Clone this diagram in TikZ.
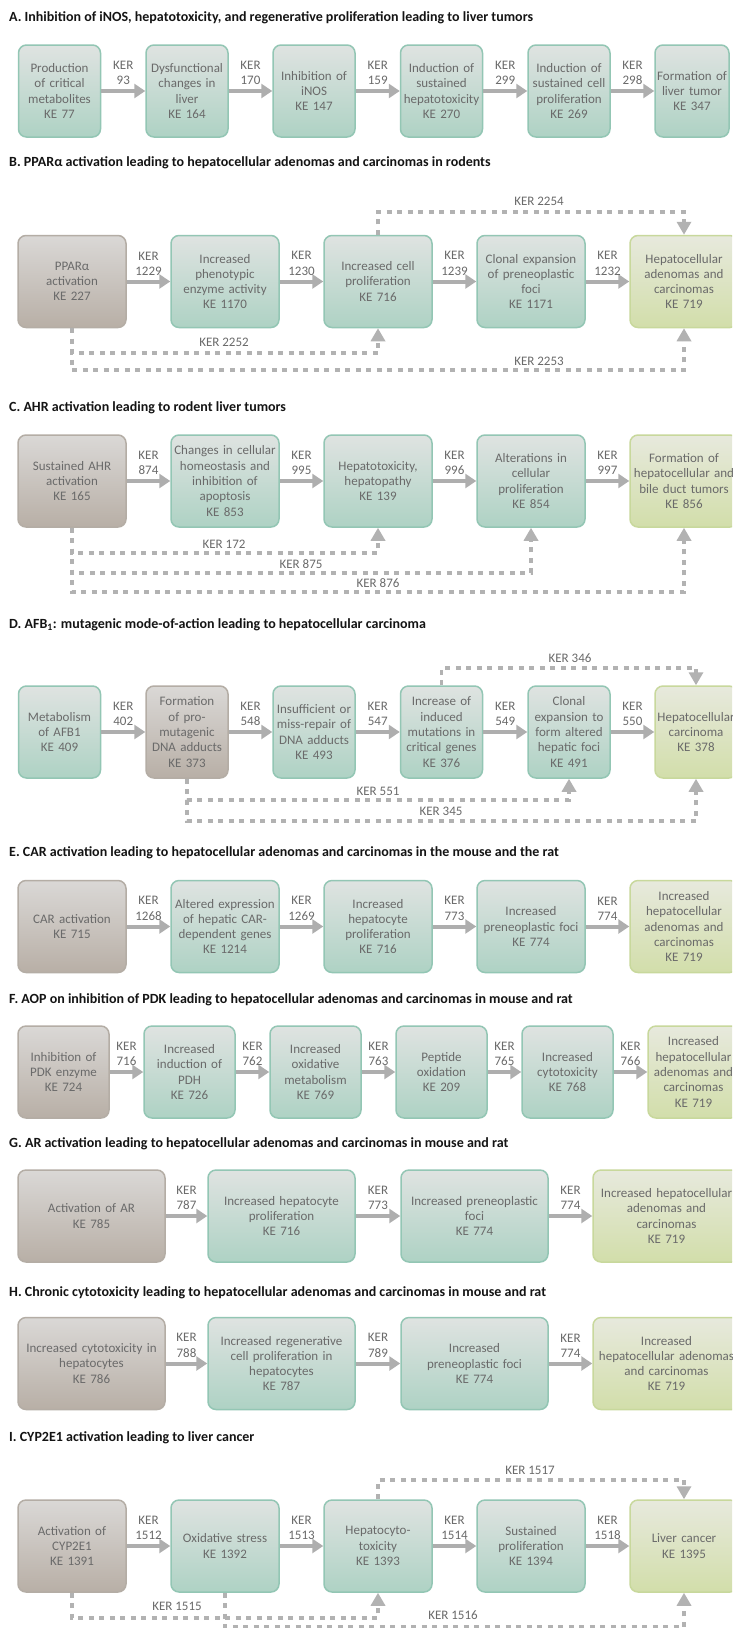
\documentclass[tikz,border=0pt]{standalone}
\usepackage{fontspec}
\setmainfont{Carlito}
\usetikzlibrary{arrows.meta,calc}
\definecolor{txtc}{HTML}{6A6A6A}
\definecolor{ttlc}{HTML}{141414}
\definecolor{tealD}{HTML}{93C6B4}
\definecolor{tealT}{HTML}{DFE3E1}
\definecolor{tealB}{HTML}{AED2C4}
\definecolor{brnD}{HTML}{B4ADA5}
\definecolor{brnT}{HTML}{DAD8D6}
\definecolor{brnB}{HTML}{B8AFA6}
\definecolor{yelD}{HTML}{C8D89C}
\definecolor{yelT}{HTML}{E7E9DD}
\definecolor{yelB}{HTML}{D2DEAA}
\definecolor{arrc}{HTML}{AEAEAE}
\definecolor{dotc}{HTML}{B2B2B2}
\newcommand\kef{\fontsize{13}{15.3}\selectfont}
\newcommand\ttlf{\bfseries\fontsize{14}{16.5}\selectfont}
\newcommand\kerlink[4]{\draw[kerarr] (#1.east) -- (#2.west);
  \node[kerlab, anchor=south] (#4) at ($(#1.east)!.5!(#2.west)+(0,-6)$) {KER\\#3};}
\begin{document}
\begin{tikzpicture}[x=1pt,y=-1pt,
  ke/.style={rounded corners=8pt, line width=1.5pt, minimum height=92pt, text width=#1, align=center, inner xsep=1.5pt, inner ysep=0pt, font=\kef, text=txtc},
  kteal/.style={ke=#1, draw=tealD, top color=tealT, bottom color=tealB},
  kbrn/.style={ke=#1, draw=brnD, top color=brnT, bottom color=brnB},
  kyel/.style={ke=#1, draw=yelD, top color=yelT, bottom color=yelB},
  ttl/.style={anchor=west, font=\ttlf, text=ttlc, inner sep=0pt},
  kerarr/.style={draw=arrc, line width=4pt, -{Triangle[length=11pt,width=14pt]}},
  kerlab/.style={align=center, font=\kef, text=txtc, inner sep=0pt},
  dotarr/.style={draw=dotc, line width=3.5pt, dash pattern=on 5pt off 5.5pt, -{Triangle[length=13pt,width=14pt]}},
  dotlab/.style={font=\kef, text=txtc, inner sep=0pt}]
\fill[white] (0,0) rectangle (732,1628);
\clip (0,0) rectangle (732,1628);
\path[use as bounding box] (0,0) rectangle (732,1628);

% ---------------- A
\node[ttl] (tA) at (9,18) {A. Inhibition of iNOS, hepatotoxicity, and regenerative proliferation leading to liver tumors};
\node[kteal=79pt] (a1) at (59.5,91) {Production\\of critical\\metabolites\\KE 77};
\node[kteal=79pt] (a2) at (187,91) {Dysfunctional\\changes in\\liver\\KE 164};
\node[kteal=79pt] (a3) at (314,91) {Inhibition of\\iNOS\\KE 147};
\node[kteal=79pt] (a4) at (441.5,91) {Induction of\\sustained\\hepatotoxicity\\KE 270};
\node[kteal=79pt] (a5) at (569,91) {Induction of\\sustained cell\\proliferation\\KE 269};
\node[kteal=71pt] (a6) at (692,91) {Formation of\\liver tumor\\KE 347};
\kerlink{a1}{a2}{93}{ka1}
\kerlink{a2}{a3}{170}{ka2}
\kerlink{a3}{a4}{159}{ka3}
\kerlink{a4}{a5}{299}{ka4}
\kerlink{a5}{a6}{298}{ka5}

% ---------------- B
\node[ttl] (tB) at (9,163) {B. PPARα activation leading to hepatocellular adenomas and carcinomas in rodents};
\node[kbrn=105pt] (b1) at (72,281.5) {PPARα\\activation\\KE 227};
\node[kteal=105pt] (b2) at (225,281.5) {Increased\\phenotypic\\enzyme activity\\KE 1170};
\node[kteal=105pt] (b3) at (378,281.5) {Increased cell\\proliferation\\KE 716};
\node[kteal=105pt] (b4) at (531,281.5) {Clonal expansion\\of preneoplastic\\foci\\KE 1171};
\node[kyel=105pt] (b5) at (684,281.5) {Hepatocellular\\adenomas and\\carcinomas\\KE 719};
\kerlink{b1}{b2}{1229}{kb1}
\kerlink{b2}{b3}{1230}{kb2}
\kerlink{b3}{b4}{1239}{kb3}
\kerlink{b4}{b5}{1232}{kb4}
\coordinate (b2254) at (684,212);
\coordinate (b2252) at (378,353);
\coordinate (b2253) at (684,370);
\draw[dotarr] (b3.north) |- (b2254) -- (b5.north);
\draw[dotarr] (b1.south) |- (b2252) -- (b3.south);
\draw[dotarr] (b1.south) |- (b2253) -- (b5.south);
\node[dotlab] (lb2254) at (539,201) {KER 2254};
\node[dotlab] (lb2252) at (224,342) {KER 2252};
\node[dotlab] (lb2253) at (539,361) {KER 2253};

% ---------------- C
\node[ttl] (tC) at (9,408) {C. AHR activation leading to rodent liver tumors};
\node[kbrn=105pt] (c1) at (72,481) {Sustained AHR\\activation\\KE 165};
\node[kteal=105pt] (c2) at (225,481) {Changes in cellular\\homeostasis and\\inhibition of\\apoptosis\\KE 853};
\node[kteal=105pt] (c3) at (378,481) {Hepatotoxicity,\\hepatopathy\\KE 139};
\node[kteal=105pt] (c4) at (531,481) {Alterations in\\cellular\\proliferation\\KE 854};
\node[kyel=105pt] (c5) at (684,481) {Formation of\\hepatocellular and\\bile duct tumors\\KE 856};
\kerlink{c1}{c2}{874}{kc1}
\kerlink{c2}{c3}{995}{kc2}
\kerlink{c3}{c4}{996}{kc3}
\kerlink{c4}{c5}{997}{kc4}
\coordinate (c172) at (378,553);
\coordinate (c875) at (531,573);
\coordinate (c876) at (684,592);
\draw[dotarr] (c1.south) |- (c172) -- (c3.south);
\draw[dotarr] (c1.south) |- (c875) -- (c4.south);
\draw[dotarr] (c1.south) |- (c876) -- (c5.south);
\node[dotlab] (lc172) at (224,544) {KER 172};
\node[dotlab] (lc875) at (301,564) {KER 875};
\node[dotlab] (lc876) at (378,583) {KER 876};

% ---------------- D
\node[ttl] (tD) at (9,625) {D. AFB\textsubscript{1}: mutagenic mode-of-action leading to hepatocellular carcinoma};
\node[kteal=79pt] (d1) at (59.5,732) {Metabolism\\of AFB1\\KE 409};
\node[kbrn=79pt] (d2) at (187,732) {Formation\\of pro-\\mutagenic\\DNA adducts\\KE 373};
\node[kteal=79pt] (d3) at (314,732) {Insufficient or\\miss-repair of\\DNA adducts\\KE 493};
\node[kteal=79pt] (d4) at (441.5,732) {Increase of\\induced\\mutations in\\critical genes\\KE 376};
\node[kteal=79pt] (d5) at (569,732) {Clonal\\expansion to\\form altered\\hepatic foci\\KE 491};
\node[kyel=79pt] (d6) at (696,732) {Hepatocellular\\carcinoma\\KE 378};
\kerlink{d1}{d2}{402}{kd1}
\kerlink{d2}{d3}{548}{kd2}
\kerlink{d3}{d4}{547}{kd3}
\kerlink{d4}{d5}{549}{kd4}
\kerlink{d5}{d6}{550}{kd5}
\coordinate (d346) at (696,668);
\coordinate (d551) at (569,800);
\coordinate (d345) at (696,821);
\draw[dotarr] (d4.north) |- (d346) -- (d6.north);
\draw[dotarr] (d2.south) |- (d551) -- (d5.south);
\draw[dotarr] (d2.south) |- (d345) -- (d6.south);
\node[dotlab] (ld346) at (570,658) {KER 346};
\node[dotlab] (ld551) at (378,791) {KER 551};
\node[dotlab] (ld345) at (441,811) {KER 345};

% ---------------- E
\node[ttl] (tE) at (9,853) {E. CAR activation leading to hepatocellular adenomas and carcinomas in the mouse and the rat};
\node[kbrn=105pt] (e1) at (72,926.5) {CAR activation\\KE 715};
\node[kteal=105pt] (e2) at (225,926.5) {Altered expression\\of hepatic CAR-\\dependent genes\\KE 1214};
\node[kteal=105pt] (e3) at (378,926.5) {Increased\\hepatocyte\\proliferation\\KE 716};
\node[kteal=105pt] (e4) at (531,926.5) {Increased\\preneoplastic foci\\KE 774};
\node[kyel=105pt] (e5) at (684,926.5) {Increased\\hepatocellular\\adenomas and\\carcinomas\\KE 719};
\kerlink{e1}{e2}{1268}{ke1}
\kerlink{e2}{e3}{1269}{ke2}
\kerlink{e3}{e4}{773}{ke3}
\kerlink{e4}{e5}{774}{ke4}

% ---------------- F
\node[ttl] (tF) at (9,1000) {F. AOP on inhibition of PDK leading to hepatocellular adenomas and carcinomas in mouse and rat};
\node[kbrn=88pt] (f1) at (63.5,1072) {Inhibition of\\PDK enzyme\\KE 724};
\node[kteal=88pt] (f2) at (189.5,1072) {Increased\\induction of\\PDH\\KE 726};
\node[kteal=88pt] (f3) at (315.5,1072) {Increased\\oxidative\\metabolism\\KE 769};
\node[kteal=88pt] (f4) at (441.5,1072) {Peptide\\oxidation\\KE 209};
\node[kteal=88pt] (f5) at (567.5,1072) {Increased\\cytotoxicity\\KE 768};
\node[kyel=88pt] (f6) at (693.5,1072) {Increased\\hepatocellular\\adenomas and\\carcinomas\\KE 719};
\kerlink{f1}{f2}{716}{kf1}
\kerlink{f2}{f3}{762}{kf2}
\kerlink{f3}{f4}{763}{kf3}
\kerlink{f4}{f5}{765}{kf4}
\kerlink{f5}{f6}{766}{kf5}

% ---------------- G
\node[ttl] (tG) at (9,1144) {G. AR activation leading to hepatocellular adenomas and carcinomas in mouse and rat};
\node[kbrn=144pt] (g1) at (91.5,1216) {Activation of AR\\KE 785};
\node[kteal=144pt] (g2) at (281.5,1216) {Increased hepatocyte\\proliferation\\KE 716};
\node[kteal=144pt] (g3) at (474.5,1216) {Increased preneoplastic\\foci\\KE 774};
\node[kyel=144pt] (g4) at (666.5,1216) {Increased hepatocellular\\adenomas and\\carcinomas\\KE 719};
\kerlink{g1}{g2}{787}{kg1}
\kerlink{g2}{g3}{773}{kg2}
\kerlink{g3}{g4}{774}{kg3}

% ---------------- H
\node[ttl] (tH) at (9,1293) {H. Chronic cytotoxicity leading to hepatocellular adenomas and carcinomas in mouse and rat};
\node[kbrn=144pt] (h1) at (91.5,1363.5) {Increased cytotoxicity in\\hepatocytes\\KE 786};
\node[kteal=144pt] (h2) at (281.5,1363.5) {Increased regenerative\\cell proliferation in\\hepatocytes\\KE 787};
\node[kteal=144pt] (h3) at (474.5,1363.5) {Increased\\preneoplastic foci\\KE 774};
\node[kyel=144pt] (h4) at (666.5,1363.5) {Increased\\hepatocellular adenomas\\and carcinomas\\KE 719};
\kerlink{h1}{h2}{788}{kh1}
\kerlink{h2}{h3}{789}{kh2}
\kerlink{h3}{h4}{774}{kh3}

% ---------------- I
\node[ttl] (tI) at (9,1438) {I. CYP2E1 activation leading to liver cancer};
\node[kbrn=105pt] (i1) at (72,1546) {Activation of\\CYP2E1\\KE 1391};
\node[kteal=105pt] (i2) at (225,1546) {Oxidative stress\\KE 1392};
\node[kteal=105pt] (i3) at (378,1546) {Hepatocyto-\\toxicity\\KE 1393};
\node[kteal=105pt] (i4) at (531,1546) {Sustained\\proliferation\\KE 1394};
\node[kyel=105pt] (i5) at (684,1546) {Liver cancer\\KE 1395};
\kerlink{i1}{i2}{1512}{ki1}
\kerlink{i2}{i3}{1513}{ki2}
\kerlink{i3}{i4}{1514}{ki3}
\kerlink{i4}{i5}{1518}{ki4}
\coordinate (i1517) at (684,1480);
\coordinate (i1515) at (378,1618);
\coordinate (i1516) at (684,1627);
\draw[dotarr] (i3.north) |- (i1517) -- (i5.north);
\draw[dotarr] (i1.south) |- (i1515) -- (i3.south);
\draw[dotarr] (i2.south) |- (i1516) -- (i5.south);
\node[dotlab] (li1517) at (530,1470) {KER 1517};
\node[dotlab] (li1515) at (177,1606) {KER 1515};
\node[dotlab] (li1516) at (453,1615) {KER 1516};
\end{tikzpicture}
\end{document}
